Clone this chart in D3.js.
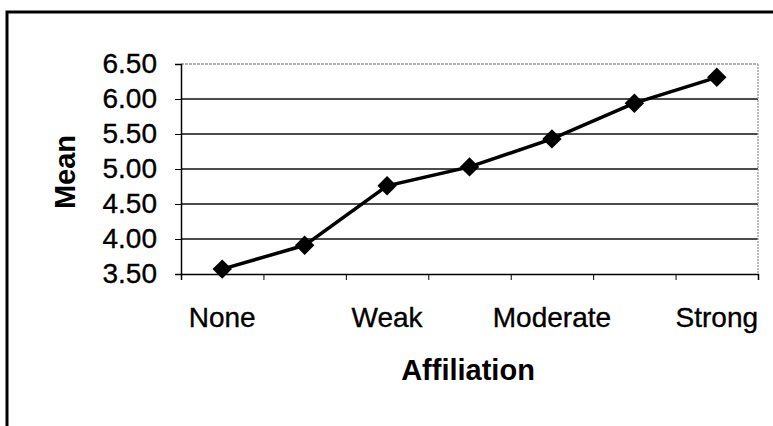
<!DOCTYPE html>
<html>
<head>
<meta charset="utf-8">
<script src="https://cdn.jsdelivr.net/npm/d3@7"></script>
<style>
  body { margin: 0; background: #fff; }
  text { font-family: "Liberation Sans", Arial, sans-serif; fill: #000; }
  .tick-label { font-size: 28px; stroke: #000; stroke-width: 0.35px; }
  .axis-title { font-size: 29px; font-weight: bold; }
</style>
</head>
<body>
<div id="chart"></div>
<script>
var levels = [1, 2, 3, 4, 5, 6, 7];
var levelLabels = ["None", "", "Weak", "", "Moderate", "", "Strong"];
var means = [3.57, 3.91, 4.76, 5.03, 5.43, 5.94, 6.31];
var yTicks = [3.5, 4.0, 4.5, 5.0, 5.5, 6.0, 6.5];
var xBounds = [0.5, 1.5, 2.5, 3.5, 4.5, 5.5, 6.5, 7.5];

var width = 773;
var height = 426;
var plot = { left: 181, right: 758, top: 64, bottom: 274 };

var svg = d3
  .select("#chart")
  .append("svg")
  .attr("width", width)
  .attr("height", height);

// outer frame (runs off right/bottom edge like the scan)
svg
  .append("rect")
  .attr("x", 7)
  .attr("y", 12)
  .attr("width", 820)
  .attr("height", 440)
  .attr("fill", "none")
  .attr("stroke", "#000")
  .attr("stroke-width", 3);

var x = d3.scaleLinear().domain([0.5, 7.5]).range([plot.left, plot.right]);
var y = d3.scaleLinear().domain([3.5, 6.5]).range([plot.bottom, plot.top]);

// grid lines
svg
  .append("g")
  .selectAll("line")
  .data(yTicks.slice(1))
  .enter()
  .append("line")
  .attr("x1", plot.left)
  .attr("x2", plot.right)
  .attr("y1", function(d) { return y(d); })
  .attr("y2", function(d) { return y(d); })
  .attr("stroke", function(d) { return d === 6.5 ? "#999" : "#111"; })
  .attr("stroke-dasharray", function(d) { return d === 6.5 ? "3,1" : null; })
  .attr("stroke-width", 1.3);

// right edge of plot
svg
  .append("line")
  .attr("x1", plot.right)
  .attr("x2", plot.right)
  .attr("y1", plot.top)
  .attr("y2", plot.bottom)
  .attr("stroke", "#999")
  .attr("stroke-dasharray", "2,1")
  .attr("stroke-width", 1.3);

var yAxis = svg
  .append("g")
  .attr("transform", "translate(" + plot.left + ",0)")
  .call(
    d3.axisLeft(y)
      .tickValues(yTicks)
      .tickSize(6)
      .tickPadding(18)
      .tickFormat(d3.format(".2f"))
  );
yAxis.select(".domain").attr("stroke", "#000").attr("stroke-width", 1.5);
yAxis.selectAll(".tick line").attr("stroke", "#000");
yAxis.selectAll("text").attr("class", "tick-label").attr("font-size", null).attr("font-family", null);

var xAxis = svg
  .append("g")
  .attr("transform", "translate(0," + plot.bottom + ")")
  .call(d3.axisBottom(x).tickValues(xBounds).tickSize(6).tickFormat(""));
xAxis.select(".domain").attr("stroke", "#000").attr("stroke-width", 1.5);
xAxis.selectAll(".tick line").attr("stroke", "#000");

svg
  .append("g")
  .selectAll("text")
  .data(levels)
  .enter()
  .append("text")
  .attr("class", "tick-label")
  .attr("x", function(d) { return x(d); })
  .attr("y", 327)
  .attr("text-anchor", "middle")
  .text(function(d, i) { return levelLabels[i]; });

// line + diamond markers
var line = d3
  .line()
  .x(function(d, i) { return x(levels[i]); })
  .y(function(d) { return y(d); });

svg
  .append("path")
  .datum(means)
  .attr("d", line)
  .attr("fill", "none")
  .attr("stroke", "#000")
  .attr("stroke-width", 3.5);

svg
  .append("g")
  .selectAll("path")
  .data(means)
  .enter()
  .append("path")
  .attr("transform", function(d, i) {
    return "translate(" + x(levels[i]) + "," + y(d) + ")";
  })
  .attr("d", d3.symbol().type(d3.symbolDiamond2).size(240))
  .attr("fill", "#000");

svg
  .append("text")
  .attr("class", "axis-title")
  .attr("x", 468)
  .attr("y", 380)
  .attr("text-anchor", "middle")
  .text("Affiliation");

svg
  .append("text")
  .attr("class", "axis-title")
  .attr("transform", "translate(75,172) rotate(-90)")
  .attr("text-anchor", "middle")
  .text("Mean");
</script>
</body>
</html>
